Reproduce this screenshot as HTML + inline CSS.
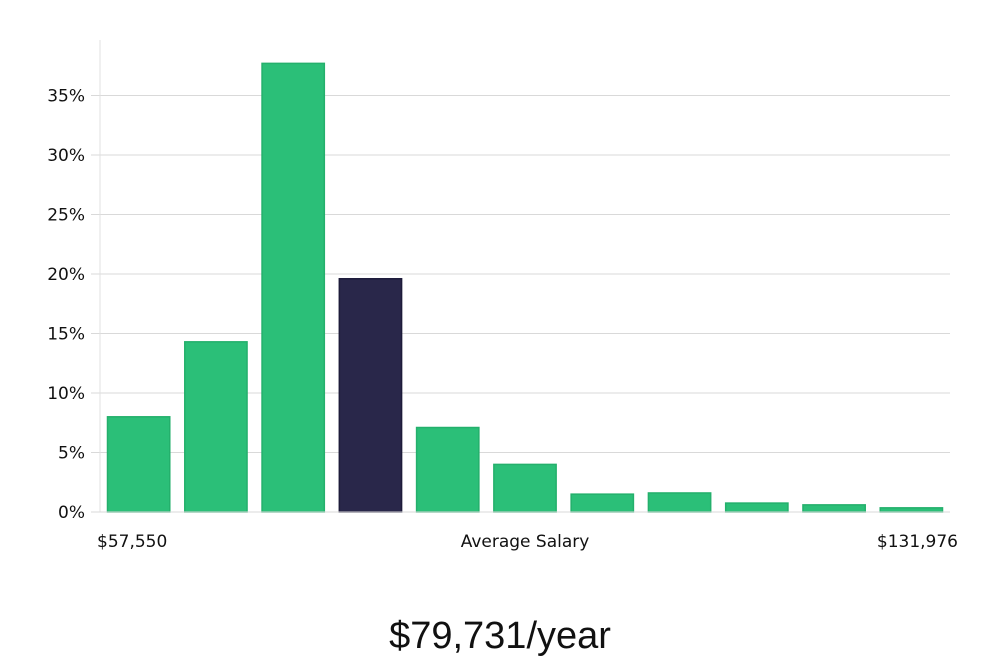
<!DOCTYPE html>
<html><head><meta charset="utf-8"><style>
body{margin:0;background:#fff;}
svg{display:block;font-family:"DejaVu Sans","Liberation Sans",sans-serif;}
</style></head><body>
<svg id="chart" width="1000" height="660"></svg>
<script>
const categories=["b1","b2","b3","b4","b5","b6","b7","b8","b9","b10","b11"];
const values=[8.0,14.3,37.7,19.6,7.1,4.0,1.5,1.6,0.75,0.6,0.35];
const highlightIndex=3;
const yTicks=[0,5,10,15,20,25,30,35];
const xLabels=["$57,550","Average Salary","$131,976"];
const ns="http://www.w3.org/2000/svg";
const svg=document.getElementById('chart');
const L=100,R=950,B=512,pxPerPct=11.9;
const y=v=>B-v*pxPerPct;
const band=(R-L)/categories.length;
const x=i=>L+i*band;
function mk(t,a){const e=document.createElementNS(ns,t);for(const k in a)e.setAttribute(k,a[k]);svg.appendChild(e);return e;}
yTicks.forEach(t=>{
  const g=mk('line',{x1:L,x2:R,y1:y(t),y2:y(t),stroke:'#d9d9d9','stroke-width':1});
  
  
  const tk=mk('line',{x1:91,x2:L,y1:y(t),y2:y(t),stroke:'#d9d9d9','stroke-width':1});
  
  
  const tx=mk('text',{x:85,y:y(t)+6,'text-anchor':'end','font-size':17,fill:'#111'});
  tx.textContent=t+'%';
  
  
});
const ax=mk('line',{x1:L,x2:L,y1:40,y2:B,stroke:'#e0e0e0','stroke-width':1});


values.forEach((v,i)=>{
  const hl=i===highlightIndex;
  const r=mk('rect',{x:x(i)+7.5,y:y(v),width:band-15,height:B-y(v),fill:hl?'#29274a':'#2bbf78',stroke:hl?'#1d1b3a':'#24b06c','stroke-width':1.5});
  
  
});
const xa=mk('line',{x1:L,x2:R,y1:B,y2:B,stroke:'#d9d9d9','stroke-width':1});


const lp=[[97,'start'],[525,'middle'],[958,'end']];
xLabels.forEach((s,i)=>{
  const t=mk('text',{x:lp[i][0],y:547,'text-anchor':lp[i][1],'font-size':17,fill:'#111'});
  t.textContent=s;
  
  
});
const tt=mk('text',{x:500,y:648,'text-anchor':'middle','font-size':38,fill:'#111','font-family':'"Liberation Sans",sans-serif'});
tt.textContent='$79,731/year';


</script>
</body></html>
